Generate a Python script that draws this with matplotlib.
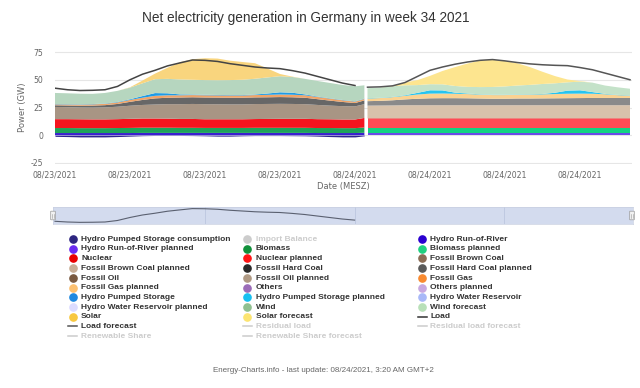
import matplotlib
matplotlib.use("Agg")
import matplotlib.pyplot as plt
from matplotlib.patches import FancyBboxPatch

# ---------------- data ----------------
title = "Net electricity generation in Germany in week 34 2021"
tick_hours = [0, 6, 12, 18, 24, 30, 36, 42]
tick_labels = ["08/23/2021", "08/23/2021", "08/23/2021", "08/23/2021",
               "08/24/2021", "08/24/2021", "08/24/2021", "08/24/2021"]
y_ticks = [-25, 0, 25, 50, 75]

# actual values (hours after 08/23 00:00)
hours_actual = [0, 1, 2, 3, 4, 5, 6, 7, 8, 9, 10, 11, 12, 13, 14, 15, 16, 17,
                18, 19, 20, 21, 22, 23, 24, 24.75]
pumped_consumption = [-1.0, -1.2, -1.5, -1.5, -1.5, -1.2, -0.8, -0.4, -0.2, -0.2, -0.2, -0.3, -0.5,
                      -0.8, -0.8, -0.5, -0.3, -0.3, -0.3, -0.4, -0.5, -0.8, -1.2, -1.5, -1.5, -0.5]
run_of_river = [2.0, 2.0, 2.0, 2.0, 2.0, 2.0, 2.0, 2.1, 2.1, 2.1, 2.1, 2.1, 2.1,
                2.1, 2.1, 2.1, 2.1, 2.1, 2.1, 2.1, 2.1, 2.0, 2.0, 2.0, 2.0, 2.2]
biomass = [4.5, 4.5, 4.4, 4.4, 4.4, 4.5, 4.6, 4.7, 4.7, 4.7, 4.6, 4.6, 4.5,
           4.5, 4.5, 4.5, 4.6, 4.6, 4.6, 4.6, 4.6, 4.5, 4.5, 4.4, 4.4, 4.8]
nuclear = [8.0, 8.0, 8.0, 7.9, 7.9, 8.0, 8.2, 8.3, 8.3, 8.2, 8.0, 8.0, 7.8,
           7.8, 7.8, 7.8, 7.9, 8.0, 8.1, 8.1, 8.1, 8.0, 7.9, 7.8, 7.8, 8.6]
brown_coal = [11.0, 10.8, 10.6, 10.6, 10.8, 11.2, 11.8, 12.2, 12.6, 13.0, 13.3, 13.5, 13.6,
              13.5, 13.4, 13.4, 13.5, 13.5, 13.5, 13.4, 13.2, 12.8, 12.3, 12.0, 11.8, 12.4]
hard_coal = [1.5, 1.5, 1.6, 1.8, 2.0, 2.5, 3.5, 4.5, 5.5, 5.8, 6.0, 6.0, 6.0,
             6.0, 6.0, 6.0, 6.0, 6.0, 6.1, 6.0, 5.8, 5.2, 4.5, 3.8, 3.0, 3.4]
fossil_gas = [0.8, 0.9, 1.0, 1.1, 1.2, 1.4, 1.7, 2.0, 2.3, 2.2, 2.0, 2.0, 2.0,
              2.0, 2.0, 2.0, 2.1, 2.2, 2.3, 2.3, 2.2, 2.0, 1.8, 1.5, 1.3, 1.3]
pumped_storage = [0.3, 0.3, 0.3, 0.3, 0.3, 0.4, 0.6, 1.5, 2.5, 1.8, 0.8, 0.5, 0.5,
                  0.4, 0.4, 0.4, 0.5, 1.2, 2.0, 1.8, 0.8, 0.4, 0.3, 0.3, 0.3, 0.3]
wind = [10.0, 9.8, 9.5, 9.2, 9.5, 10.0, 10.5, 11.5, 12.5, 13.0, 13.5, 13.3, 13.2,
        13.3, 13.5, 13.8, 14.2, 14.5, 14.5, 14.2, 14.0, 14.0, 13.8, 13.5, 13.5, 12.0]
solar = [0, 0, 0, 0, 0, 0, 0.3, 2.5, 5.0, 10.0, 15.5, 18.5, 19.7,
         19.5, 17.5, 16.0, 14.0, 8.0, 2.0, 0.3, 0, 0, 0, 0, 0, 0]
hours_load = [0, 1, 2, 3, 4, 5, 6, 7, 8, 9, 10, 11, 12, 13, 14, 15, 16, 17,
              18, 19, 20, 21, 22, 23, 24]
load = [42.4, 41.0, 40.3, 40.5, 41.0, 44.0, 50.0, 55.0, 58.5, 62.5, 65.2, 67.8, 67.5,
        66.5, 64.5, 63.0, 61.5, 60.6, 60.0, 58.2, 56.0, 53.0, 50.0, 47.0, 44.8]

# planned / forecast values
hours_forecast = [25, 26, 27, 28, 29, 30, 31, 32, 33, 34, 35, 36, 37, 38, 39, 40,
                  41, 42, 43, 44, 45, 46]
run_of_river_p = [2.0, 2.0, 2.0, 2.0, 2.0, 2.0, 2.0, 2.0, 2.0, 2.0, 2.0,
                  2.0, 2.0, 2.0, 2.0, 2.0, 2.0, 2.0, 2.0, 2.0, 2.0, 2.0]
biomass_p = [4.7, 4.7, 4.7, 4.7, 4.7, 4.7, 4.7, 4.7, 4.7, 4.7, 4.7,
             4.7, 4.7, 4.7, 4.7, 4.7, 4.7, 4.7, 4.7, 4.7, 4.7, 4.7]
nuclear_p = [8.4, 8.4, 8.4, 8.4, 8.4, 8.4, 8.4, 8.4, 8.4, 8.4, 8.4,
             8.4, 8.4, 8.4, 8.4, 8.4, 8.4, 8.4, 8.4, 8.4, 8.4, 8.4]
brown_coal_p = [11.6, 11.7, 11.8, 12.0, 12.0, 12.0, 12.0, 12.0, 12.0, 12.0, 12.0,
                12.0, 12.0, 12.0, 12.0, 12.0, 12.0, 12.0, 12.0, 12.0, 12.0, 12.0]
hard_coal_p = [4.0, 4.2, 4.6, 5.2, 5.8, 6.2, 6.3, 6.3, 6.2, 6.0, 5.8,
               5.8, 6.0, 6.0, 6.1, 6.2, 6.3, 6.4, 6.5, 6.5, 6.5, 6.5]
fossil_gas_p = [2.4, 2.5, 2.8, 3.2, 3.8, 4.2, 4.2, 4.0, 3.8, 3.5, 3.3,
                3.3, 3.4, 3.5, 3.6, 3.8, 4.0, 4.0, 3.8, 3.3, 2.5, 2.0]
pumped_storage_p = [0.3, 0.3, 0.3, 0.5, 1.5, 3.0, 2.8, 1.0, 0.5, 0.3, 0.3,
                    0.3, 0.3, 0.3, 0.4, 1.2, 2.8, 3.0, 1.5, 0.4, 0.3, 0.3]
wind_p = [9.0, 9.2, 9.5, 9.0, 7.0, 5.5, 5.5, 6.0, 6.0, 6.5, 7.0,
          7.5, 8.0, 8.5, 9.0, 8.5, 7.5, 7.8, 8.5, 7.5, 6.8, 6.0]
solar_p = [0, 0, 0.5, 2.5, 4.5, 7.5, 12.0, 17.0, 21.0, 24.0, 24.5,
           23.0, 20.0, 16.0, 11.0, 6.5, 2.5, 0.5, 0, 0, 0, 0]
load_p = [43.3, 43.6, 44.5, 47.5, 53.0, 58.5, 61.5, 64.0, 66.0, 67.5, 68.2,
          67.0, 65.5, 64.3, 63.5, 63.0, 62.7, 61.0, 59.0, 56.0, 53.0, 50.0]

legend_items = [
    ("Hydro Pumped Storage consumption", "#2d2580", "dot", True),
    ("Import Balance", "#cccccc", "dot", False),
    ("Hydro Run-of-River", "#2a00d0", "dot", True),
    ("Hydro Run-of-River planned", "#6a2af0", "dot", True),
    ("Biomass", "#10903a", "dot", True),
    ("Biomass planned", "#20d080", "dot", True),
    ("Nuclear", "#e80000", "dot", True),
    ("Nuclear planned", "#ff1515", "dot", True),
    ("Fossil Brown Coal", "#8b6c55", "dot", True),
    ("Fossil Brown Coal planned", "#c8ae96", "dot", True),
    ("Fossil Hard Coal", "#2a2a2a", "dot", True),
    ("Fossil Hard Coal planned", "#5a5a5a", "dot", True),
    ("Fossil Oil", "#7a5a40", "dot", True),
    ("Fossil Oil planned", "#b09a84", "dot", True),
    ("Fossil Gas", "#f88a30", "dot", True),
    ("Fossil Gas planned", "#fcc070", "dot", True),
    ("Others", "#9b6cb8", "dot", True),
    ("Others planned", "#c8a8e0", "dot", True),
    ("Hydro Pumped Storage", "#1e88e0", "dot", True),
    ("Hydro Pumped Storage planned", "#18c0f0", "dot", True),
    ("Hydro Water Reservoir", "#a8b8f8", "dot", True),
    ("Hydro Water Reservoir planned", "#dcdcff", "dot", True),
    ("Wind", "#90c090", "dot", True),
    ("Wind forecast", "#b8e0b8", "dot", True),
    ("Solar", "#f8c840", "dot", True),
    ("Solar forecast", "#fce470", "dot", True),
    ("Load", "#333333", "line", True),
    ("Load forecast", "#555555", "line", True),
    ("Residual load", "#cccccc", "line", False),
    ("Residual load forecast", "#cccccc", "line", False),
    ("Renewable Share", "#cccccc", "line", False),
    ("Renewable Share forecast", "#cccccc", "line", False),
]

footer = "Energy-Charts.info - last update: 08/24/2021, 3:20 AM GMT+2"

# ---------------- styles ----------------
colors_actual = ["#3a1fd0", "#1fa35a", "#f5141e", "#a89584", "#676767",
                 "#f0a468", "#1e9be6", "#b6d6bf", "#f9d57e"]
colors_forecast = ["#6a4ae8", "#14d282", "#ff4b55", "#d8c2ab", "#8a8a8a",
                   "#fbd291", "#26c4f0", "#c4e2c9", "#fde58f"]

W, H = 640, 388
fig = plt.figure(figsize=(W / 100, H / 100), dpi=100)
fig.patch.set_facecolor("white")

def fx(px):
    return px / W

def fy(py):
    return 1 - py / H

# main axes
x0, x1 = 55, 632
y_top, y_bot = 50.9, 164.1
ax = fig.add_axes([fx(x0), fy(y_bot), fx(x1) - fx(x0), (y_bot - y_top) / H])
ax.set_xlim(0, 46.16)
ax.set_ylim(-26, 76)
for s in ax.spines.values():
    s.set_visible(False)
for yt in y_ticks:
    ax.axhline(yt, color="#e6e6e6", lw=0.8, zorder=0)

ax.fill_between(hours_actual, pumped_consumption, 0, color="#2c2490", lw=0, zorder=1)
ax.stackplot(hours_actual, run_of_river, biomass, nuclear, brown_coal, hard_coal,
             fossil_gas, pumped_storage, wind, solar, colors=colors_actual, lw=0, zorder=2)
ax.stackplot(hours_forecast, run_of_river_p, biomass_p, nuclear_p, brown_coal_p, hard_coal_p,
             fossil_gas_p, pumped_storage_p, wind_p, solar_p, colors=colors_forecast, lw=0, zorder=2)
ax.plot(hours_load, load, color="#444444", lw=1.1, zorder=3)
ax.plot(hours_forecast, load_p, color="#555555", lw=1.1, zorder=3)

ax.set_yticks(y_ticks)
ax.set_yticklabels([str(v) for v in y_ticks])
ax.set_xticks(tick_hours)
ax.set_xticklabels(tick_labels)
ax.tick_params(axis="both", length=0, labelsize=5.6, labelcolor="#666666")
ax.tick_params(axis="y", pad=8.5)
ax.tick_params(axis="x", pad=4.5)
ax.set_xlabel("Date (MESZ)", fontsize=6, color="#666666", labelpad=2)
ax.set_ylabel("Power (GW)", fontsize=6, color="#666666", labelpad=3)

fig.text(fx(306), fy(18), title, ha="center", va="center", fontsize=9.8,
         family="Liberation Sans", color="#333333")

# navigator
nav = fig.add_axes([fx(53), fy(224), fx(633) - fx(53), 17 / H])
nav.set_facecolor("#d3dbee")
nav.set_xlim(-0.16, 46.3)
nav.set_ylim(37, 71)
for s in nav.spines.values():
    s.set_color("#c8cfe0")
    s.set_linewidth(0.5)
nav.set_xticks([])
nav.set_yticks([])
for vx in [12, 24, 36]:
    nav.axvline(vx, color="#bcc6df", lw=0.6)
nav.plot(hours_load, load, color="#5a6070", lw=0.8)

# overlay for handles, legend, footer
ov = fig.add_axes([0, 0, 1, 1])
ov.set_xlim(0, W)
ov.set_ylim(H, 0)
ov.axis("off")
ov.patch.set_alpha(0)
for hx in [53, 632]:
    ov.add_patch(FancyBboxPatch((hx - 2, 211.5), 4, 8, boxstyle="round,pad=0.3",
                                fc="#f2f2f2", ec="#999999", lw=0.5))
    ov.plot([hx - 0.7, hx - 0.7], [213.5, 217.5], color="#999999", lw=0.4)
    ov.plot([hx + 0.7, hx + 0.7], [213.5, 217.5], color="#999999", lw=0.4)

col_x = [72.6, 247.3, 422.0]
row_y0, row_dy = 239.0, 9.7
for i, (name, col, kind, active) in enumerate(legend_items):
    cx = col_x[i % 3]
    cy = row_y0 + row_dy * (i // 3)
    if kind == "dot":
        ov.plot([cx], [cy], marker="o", ms=5.2, color=col, mec=col, ls="none")
    else:
        ov.plot([cx - 4.5, cx + 4.5], [cy, cy], color=col, lw=1.1)
    ov.text(cx + 8.5, cy + 0.3, name, ha="left", va="center", fontsize=6.0,
            family="Liberation Sans", fontweight="bold",
            color="#333333" if active else "#cccccc")

ov.text(323, 371, footer, ha="center", va="center", fontsize=5.8,
        family="Liberation Sans", color="#666666")

fig.savefig("out.png", dpi=100, facecolor="white")
